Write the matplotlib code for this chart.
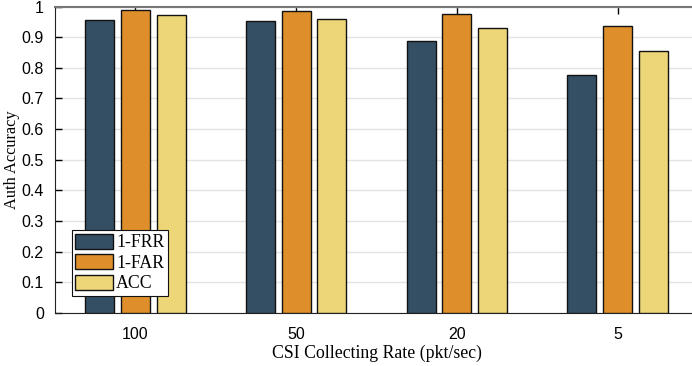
import matplotlib
matplotlib.use("Agg")
import matplotlib.pyplot as plt
import numpy as np

categories = ["100", "50", "20", "5"]
series_names = ["1-FRR", "1-FAR", "ACC"]
frr = [0.955, 0.953, 0.887, 0.775]
far = [0.989, 0.984, 0.974, 0.937]
acc = [0.973, 0.960, 0.930, 0.855]
colors = ["#344E64", "#DE8F2B", "#EDD677"]

fig = plt.figure(figsize=(6.92, 3.66), dpi=100)
ax = fig.add_axes([0.0795, 0.1448, 0.929, 0.8374])

x = np.arange(len(categories))
width = 0.18
offsets = [-0.222, 0.0, 0.222]
for vals, off, c, name in zip([frr, far, acc], offsets, colors, series_names):
    ax.bar(x + off, vals, width, color=c, edgecolor="#111111", linewidth=1.0,
           label=name, zorder=3)

ax.set_xlim(-0.5, 3.5)
ax.set_ylim(0, 1)
ax.set_yticks(np.arange(0, 1.01, 0.1))
ax.set_yticklabels(["0", "0.1", "0.2", "0.3", "0.4", "0.5", "0.6", "0.7", "0.8", "0.9", "1"])
ax.set_xticks(x)
ax.set_xticklabels(categories)
ax.yaxis.grid(True, color="#e3e3e3", linewidth=1.0, zorder=0)
ax.set_axisbelow(True)

for lab in ax.get_xticklabels() + ax.get_yticklabels():
    lab.set_family("Liberation Sans")
    lab.set_fontsize(11.5)

ax.tick_params(axis="both", direction="in", length=5, width=1, colors="black",
               top=True, right=False)
ax.tick_params(axis="x", pad=10)
ax.tick_params(axis="y", pad=8)
ax.spines["top"].set_color("#777777")
ax.spines["top"].set_linewidth(1.5)
ax.spines["right"].set_visible(False)
ax.spines["left"].set_color("#222222")
ax.spines["bottom"].set_color("#222222")

ax.set_xlabel("CSI Collecting Rate (pkt/sec)", family="Liberation Serif", fontsize=12.8, labelpad=2)
ax.set_ylabel("Auth Accuracy", family="Liberation Serif", fontsize=11.8, labelpad=1)

leg = ax.legend(loc="lower left", bbox_to_anchor=(0.026, 0.056), prop={"family": "Liberation Serif", "size": 12.8},
                frameon=True, fancybox=False, edgecolor="#111111", framealpha=1,
                handlelength=2.1, handleheight=0.95, handletextpad=0.2, borderpad=0.2,
                labelspacing=0.15, borderaxespad=0)
leg.get_frame().set_linewidth(0.8)

fig.savefig("out.png", dpi=100)
